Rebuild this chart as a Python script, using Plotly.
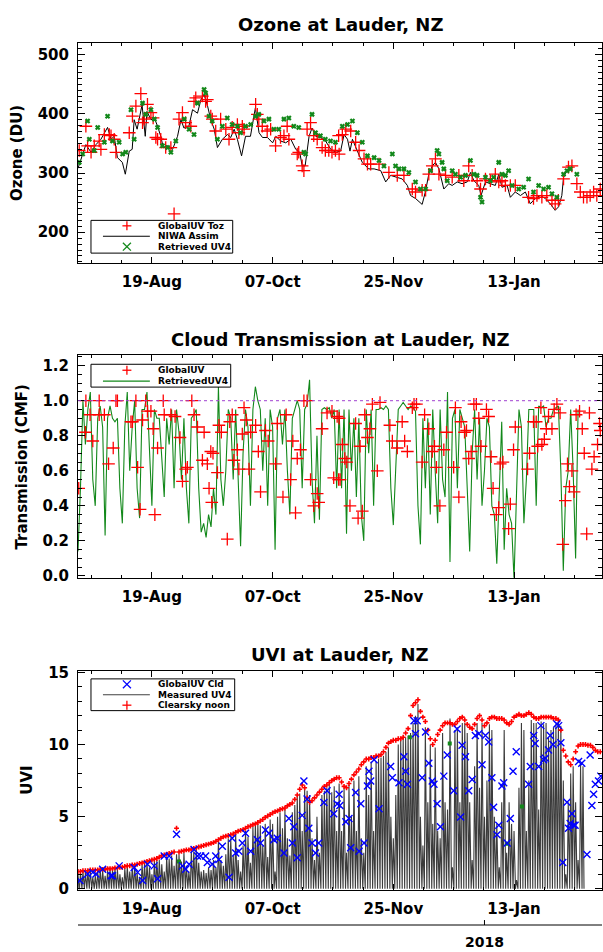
import pandas as pd
import plotly.graph_objects as go

START = pd.Timestamp("2017-07-20")
X_RANGE = [pd.Timestamp("2017-07-20"), pd.Timestamp("2018-02-17 17:00")]

# ---------------- Ozone panel ----------------
toz_days = [0.5, 3.2, 3.9, 5.3, 6.6, 8.6, 9.3, 10.7, 12.7, 13.4,
            14.7, 15.4, 20.8, 22.1, 23.5, 25.5, 26.2, 26.9, 28.2, 29.6,
            30.5, 31.6, 32.3, 33.6, 35.6, 37.7, 39, 41, 42.4, 43.7,
            45.8, 47.1, 47.8, 50.5, 51.8, 52.5, 53.9, 54.5, 55.9, 57.9,
            60, 61.3, 62.6, 64.7, 65.3, 66.7, 67.4, 72.1, 72.8, 73.4,
            74.8, 76.8, 78.2, 80.2, 82.2, 83.6, 84.9, 85.6, 89, 89.6,
            91, 91.7, 93, 94.4, 95.7, 97.1, 99.1, 100.4, 101.8, 103.1,
            104.5, 105.8,
            106, 107.3, 108.7, 110.7, 112.7, 114.1, 116.1, 117.5, 118.8, 122.2,
            126.2, 129.6, 132.3, 135.7, 137, 139.7, 141.1, 142.4, 143.8, 145.1,
            146.5, 149.2, 151.9, 154.6, 156.6, 158.6, 160, 162, 163.4, 165.4,
            167.4, 169.4, 170.8, 172.1, 173.5, 175.5, 177.5, 182.9, 184.9, 186.3,
            188.3, 190.3, 192.4, 193.7, 195, 197.1, 199.1, 200.5, 202.5, 203.9,
            205.2, 206.6, 207.9, 209.3, 210.6, 212]
toz_vals = [338, 379, 346, 335, 346, 354, 340, 365, 365, 363,
            357, 335, 368, 396, 413, 434, 385, 391, 416, 402,
            393, 360, 357, 357, 343, 343, 231, 391, 402, 385,
            379, 421, 427, 430, 421, 424, 396, 391, 371, 391,
            374, 357, 377, 382, 368, 379, 374, 416, 399, 391,
            379, 371, 374, 346, 360, 363, 379, 357, 332, 335,
            312, 304, 374, 385, 363, 357, 343, 338, 338, 335,
            338, 363,
            332, 365, 374, 371, 352, 338, 324, 315, 315, 315,
            301, 296, 296, 273, 268, 271, 271, 298, 312, 324,
            298, 296, 293, 296, 287, 312, 296, 287, 273, 290,
            287, 298, 285, 287, 279, 279, 279, 259, 257, 262,
            259, 262, 254, 248, 254, 290, 310, 312, 282, 268,
            259, 259, 262, 268, 262, 273]

niwa_days = [0, 3.2, 5.3, 7.3, 9.3, 12, 13.4, 14.7, 16, 18,
             19.2, 20.8, 22, 22.8, 24, 26, 27.3, 28, 29.6, 31,
             32.3, 33.6, 34.6, 36.4, 38.4, 40.4, 41.8, 43, 45, 46.5,
             48.5, 49.9, 51.2, 52.6, 53.9, 55.3, 56.6, 58.6, 60.7, 62,
             63.4, 64.7, 66.4, 68, 70, 72, 73.5, 74.9, 76.9, 79,
             80.3, 82.3, 84.3, 86.4, 88.4, 90, 91, 92.2, 93.8, 95,
             96.5, 98.5, 100.5, 102.6, 104.6, 106.6, 108, 109.4, 110.4, 111.4,
             113.4, 115.4, 118, 120.2, 122.9, 124.9, 126.9, 128.9, 131.6, 133.7,
             135, 137, 139.7, 141, 142.4, 143.8, 145.1, 146.5, 148.5, 150.5,
             151.9, 153.9, 155.9, 158, 159.3, 160.7, 162.7, 163.6, 165.4, 167.4,
             169.4, 170.8, 172.1, 174.2, 175.5, 177.5, 179.6, 181.6, 183.6, 185.6,
             187.7, 189.7, 191.7, 193.7, 195.1, 196.4, 197.1, 198.5]
niwa_toz = [308, 348, 335, 348, 357, 377, 357, 362, 326, 318,
            298, 337, 340, 390, 374, 415, 362, 404, 390, 393,
            379, 362, 343, 346, 340, 362, 390, 376, 379, 407,
            401, 424, 432, 413, 390, 374, 343, 357, 365, 360,
            374, 357, 329, 362, 362, 410, 368, 360, 360, 351,
            362, 354, 351, 357, 340, 335, 312, 312, 362, 376,
            362, 360, 354, 340, 335, 337, 365, 357, 337, 357,
            337, 318, 307, 307, 304, 285, 296, 293, 290, 279,
            262, 257, 247, 268, 298, 312, 318, 307, 273, 282,
            279, 285, 282, 285, 301, 287, 279, 262, 285, 282,
            279, 298, 276, 279, 259, 268, 262, 268, 248, 257,
            262, 257, 248, 237, 243, 262, 293, 304]

ret_days = [0.5, 1.9, 3.9, 4.6, 6.6, 8, 10.7, 12, 14, 16.7,
            18.1, 19.4, 21.5, 22.8, 26.2, 27.5, 29.6, 31, 32.3, 34.3,
            36.4, 37.7, 39.7, 43.1, 45.1, 47.1, 48.5, 51.2, 51.8, 53.2,
            54.5, 56.6, 58.6, 60.6, 62.6, 64.7, 66, 68, 70.1, 72.1,
            73.4, 75.5, 77.5, 79.5, 81.5, 83.6, 85.6, 87.6, 89.6, 91.7,
            92.4, 95, 96.4, 98.4, 100.4, 102.5, 104.5,
            107.3, 109.4, 111.4,
            113.4, 115.4, 117.5, 120.2, 122.2, 124.2, 127.6, 128.9, 130.3, 132.3,
            134.3, 137, 139, 141.1, 143.1, 145.8, 146.5, 147.8, 148.5, 149.9,
            151.9, 153.2, 155.3, 157.3, 159.3, 160.7, 162, 163.4, 164, 165.4,
            167.4, 168.7, 170.8, 172.1, 173.5, 174.8, 176.2, 178.9, 180.9, 182.9,
            184.9, 187, 189, 191, 192.4, 194.4, 197.1, 198.5, 199.8, 202.5]
ret_vals = [318, 332, 388, 357, 338, 377, 352, 396, 354, 352,
            332, 335, 407, 357, 418, 399, 407, 391, 377, 346,
            343, 335, 354, 391, 374, 365, 418, 441, 435, 396,
            388, 357, 379, 393, 382, 379, 368, 379, 382, 396,
            399, 388, 391, 374, 374, 391, 393, 379, 377, 335,
            332, 399, 368, 363, 357, 354, 352,
            379, 382, 388,
            368, 352, 329, 326, 321, 312, 332, 312, 307, 307,
            301, 285, 273, 273, 304, 338, 332, 318, 307, 287,
            304, 298, 293, 296, 321, 298, 296, 259, 251, 293,
            287, 293, 318, 298, 296, 304, 279, 273, 276, 290,
            268, 279, 273, 276, 265, 259, 298, 304, 307, 298]

# ---------------- Cloud transmission panel ----------------
trans_uv4 = [0.14, 0.5, 1.0, 0.75, 0.95, 1.05, 0.55, 0.4, 0.9, 0.97,
             0.85, 0.23, 0.9, 0.97, 0.9, 0.88, 0.9, 0.5, 0.3, 0.85,
             1.05, 0.6, 0.85, 1.0, 0.5, 0.33, 0.95, 0.95, 1.05, 0.7,
             0.4, 0.95, 0.9, 0.9, 0.7, 0.45, 0.9, 0.75, 0.95, 0.5,
             0.95, 0.82, 0.55, 0.9, 0.5, 0.3, 0.9, 0.92, 0.95, 0.5,
             0.25, 0.3, 0.22, 0.35, 0.28, 0.5, 0.35, 1.08, 0.55, 0.4,
             0.6, 0.95, 0.9, 0.55, 0.95, 0.5, 0.17, 0.7, 0.95, 0.85,
             0.4, 0.95, 1.08, 1.0, 0.95, 0.6, 0.9, 0.4, 0.95, 0.85,
             0.15, 0.9, 0.95, 0.75, 0.95, 0.6, 0.35, 0.9, 0.95, 1.0,
             0.95, 0.5, 0.95, 0.98, 1.12, 0.55, 0.3, 0.8, 0.32, 0.95,
             0.96, 0.95, 0.96, 0.9, 0.95, 0.5, 0.95, 0.5, 0.95, 0.24,
             0.95, 0.6, 0.9, 0.45, 0.9, 0.35, 0.2, 0.95, 0.7, 0.95,
             0.4, 0.95, 0.95, 0.96, 0.95, 0.97, 0.95, 0.5, 0.29, 0.6,
             0.95, 0.97, 0.99, 0.97, 0.95, 0.97, 0.96, 0.94, 0.4, 0.18,
             0.9, 0.5, 0.9, 0.35, 0.95, 0.6, 0.3, 0.95, 0.55, 0.45,
             1.05, 0.08, 0.9, 0.95, 0.5, 0.95, 0.9, 0.85, 0.5, 0.14,
             0.7, 0.95, 0.55, 0.9, 0.4, 0.6, 0.9, 0.85, 0.4, 0.35,
             0.07, 0.5, 0.88, 0.15, 0.5, 0.35, 0.3, -0.02, 0.55, 0.95,
             0.85, 0.3, 0.55, 0.95, 0.95, 0.95, 0.4, 0.97, 0.96, 0.97,
             0.85, 0.9, 0.9, 0.95, 0.96, 0.97, 0.6, 0.03, 0.5, 0.6,
             0.95, 0.6, 0.1, 0.95]

cmf_days = [0.3, 3.2, 3.0, 4.9, 6.0, 8.6, 8.6, 10.7, 12.4, 14.3,
            15.4, 16.0, 21.5, 22.1, 23.5, 24.2, 25.2, 26.2, 27.5, 28.2,
            29.6, 30.5, 31.2, 32.3, 34.6, 35.0, 37.7, 39.4, 41.4, 42.4,
            43.7, 44.4, 46.2, 47.1, 48.5, 50.5, 51.2, 52.5, 53.2, 53.9,
            54.3, 54.8, 56.6, 57.2, 58.2, 60.6, 61.6, 62.6, 63.3, 64.7,
            65.3, 66.7, 67.4, 68.3, 69.4, 70.1, 72.1, 73.2, 74.1, 76.1,
            77.2, 80.2, 80.9, 83.2, 84.5, 86.3, 87.2, 88.3, 89.0, 90.3,
            91.7, 93.0, 94.4, 95.7, 97.1, 97.7, 99.1, 101.1, 103.1, 103.8,
            105.2, 105.8,
            106.0, 106.4, 107.3, 108.3, 109.1, 110.4, 112.7, 113.7, 114.5, 115.4,
            116.4, 117.5, 118.5, 119.5, 121.5, 122.6, 126.6, 127.6, 129.6, 131.6,
            132.6, 133.7, 135.7, 136.4, 137.4, 139.7, 140.7, 142.4, 143.8, 144.7,
            145.5, 146.9, 148.5, 149.6, 152.5, 153.2, 154.6, 155.5, 156.9, 157.7,
            158.6, 159.6, 160.7, 161.7, 162.7, 163.6, 165.8, 166.7, 167.7, 168.5,
            169.8, 170.8, 171.4, 172.5, 174.8, 175.5, 176.8, 177.5, 182.5, 183.3,
            184.9, 186.0, 186.6, 187.9, 188.3, 189.3, 190.1, 191.0, 192.4, 193.3,
            194.4, 195.7, 196.8, 197.8, 198.7, 199.5, 200.5, 201.4, 202.2, 203.6,
            204.7, 205.5, 206.5, 207.6, 208.6, 209.5, 210.9, 211.7, 212.0]
cmf_vals = [0.50, 1.0, 0.82, 0.92, 0.77, 1.0, 0.92, 0.92, 0.64, 0.73,
            1.0, 1.0, 0.88, 0.88, 1.0, 0.62, 0.38, 0.89, 1.0, 0.94,
            0.94, 0.84, 0.35, 0.73, 1.0, 0.92, 0.92, 0.91, 0.79, 0.54,
            0.61, 0.62, 1.0, 0.92, 0.85, 0.66, 0.82, 0.64, 0.50, 0.71,
            0.42, 0.70, 0.59, 0.86, 0.82, 0.21, 0.88, 0.92, 0.66, 0.72,
            0.61, 0.81, 0.96, 0.89, 0.61, 0.82, 0.86, 0.71, 0.48, 0.83,
            0.77, 0.64, 0.87, 0.45, 0.92, 0.55, 0.77, 0.36, 0.67, 0.72,
            1.0, 1.0, 0.55, 0.40, 0.47, 0.42, 0.84, 0.93, 0.94, 0.56,
            0.91, 0.55,
            0.90, 0.55, 0.75, 0.67, 0.65, 0.40, 0.87, 0.33, 0.74, 0.37,
            0.92, 0.79, 0.84, 0.98, 0.60, 0.99, 0.86, 0.77, 0.73, 0.88,
            0.77, 0.71, 0.96, 0.98, 0.98, 0.65, 0.92, 0.84, 0.71, 0.74,
            0.62, 0.40, 0.72, 0.82, 0.62, 0.96, 0.45, 0.88, 0.82, 0.83,
            0.67, 0.71, 0.98, 0.98, 0.90, 0.74, 0.95, 0.91, 0.68, 0.50,
            0.35, 0.39, 0.64, 0.65, 0.27, 0.41, 0.72, 0.85, 0.61, 0.70,
            0.88, 0.88, 0.74, 0.96, 0.75, 0.78, 0.84, 0.91, 0.84, 0.95,
            0.98, 0.93, 0.18, 0.43, 0.64, 0.51, 0.60, 0.48, 0.92, 0.94,
            0.84, 0.70, 0.24, 0.93, 0.61, 0.68, 0.75, 0.87, 0.83]

# ---------------- UVI panel ----------------
clearsky_uvi = [1.2, 1.2, 1.25, 1.25, 1.25, 1.3, 1.3, 1.3, 1.3, 1.35, 1.35,
                1.35, 1.4, 1.4, 1.4, 1.45, 1.45, 1.5, 1.5, 1.55, 1.6,
                1.6, 1.65, 1.65, 1.7, 1.75, 1.8, 1.85, 1.9, 1.95, 2.0,
                2.05, 2.1, 2.2, 2.3, 2.35, 2.4, 2.45, 2.5, 2.55, 4.2,
                2.55, 2.6, 2.65, 2.7, 2.7, 2.75, 2.8, 2.85, 2.9, 2.95,
                3.0, 3.05, 3.1, 3.15, 3.2, 3.3, 3.4, 3.5, 3.6, 3.65,
                3.7, 3.75, 3.8, 3.9, 4.0, 4.05, 4.1, 4.2, 4.3, 4.35,
                4.45, 4.5, 4.6, 4.7, 4.8, 4.95, 5.05, 5.15, 5.25, 5.35,
                5.4, 5.5, 5.55, 5.6, 5.75, 5.85, 5.95, 6.2, 6.5, 6.9,
                7.2, 7.0, 6.3, 6.0, 6.1, 6.3, 6.5, 6.7, 6.9, 7.1,
                7.2, 7.35, 7.5, 7.6, 7.7, 7.7, 7.4, 7.1, 7.0, 7.3,
                7.6, 7.9, 8.1, 8.3, 8.6, 8.8, 9.0, 9.0, 9.1, 9.1,
                9.2, 9.2, 9.3, 9.5, 9.8, 10.1, 10.2, 10.3, 10.3, 10.4,
                10.4, 10.5, 10.8, 11.1, 12.0, 12.7, 12.9, 13.1, 12.3, 11.9,
                11.6, 11.0, 10.4, 10.0, 10.3, 10.7, 11.0, 11.3, 11.5, 11.5,
                11.5, 11.4, 11.4, 11.6, 11.8, 11.9, 11.7, 11.4, 11.2, 11.1,
                11.4, 11.8, 12.0, 11.7, 11.3, 11.5, 11.8, 11.9, 11.9, 11.8,
                11.8, 11.8, 11.7, 11.5, 11.4, 11.6, 11.9, 12.0, 12.1, 12.0,
                12.0, 12.1, 12.2, 12.1, 11.9, 11.8, 11.8, 11.9, 11.9, 11.9,
                11.9, 11.9, 11.8, 11.8, 11.7, 11.0, 9.6, 9.2, 8.8, 8.6,
                9.0, 9.5, 9.9, 10.0, 10.0, 10.0, 9.95, 9.95, 9.8, 9.6, 9.5, 9.5]

uv4_peak = [1.0, 1.1, 1.2, 1.1, 1.2, 1.25, 0.8, 0.9, 1.2, 1.3, 1.3,
            0.9, 1.3, 1.35, 1.3, 1.4, 1.3, 1.0, 0.8, 1.4, 1.55,
            1.2, 1.5, 1.6, 1.1, 0.8, 1.7, 1.75, 1.8, 1.5, 1.0,
            1.95, 2.0, 2.0, 1.7, 1.2, 2.2, 2.1, 2.3, 1.6, 2.4,
            2.4, 1.9, 2.5, 1.6, 1.2, 2.6, 2.6, 2.7, 1.8, 1.2,
            1.3, 1.1, 1.5, 1.3, 2.0, 1.5, 3.3, 2.0, 1.6, 2.4,
            3.5, 3.5, 2.3, 3.8, 2.0, 1.2, 3.0, 4.0, 3.6, 1.8,
            4.3, 4.6, 4.5, 4.4, 3.0, 4.5, 2.2, 4.8, 4.5, 1.2,
            5.0, 5.3, 4.2, 5.5, 3.5, 2.3, 5.3, 5.8, 6.5, 6.6,
            4.0, 7.0, 6.8, 6.5, 3.5, 2.0, 5.0, 2.5, 6.5, 6.8,
            7.0, 7.2, 6.7, 7.1, 4.0, 7.3, 4.0, 7.0, 2.5, 7.2,
            5.0, 7.5, 4.0, 7.8, 3.5, 2.5, 8.5, 6.5, 8.8, 4.0,
            8.8, 9.0, 9.1, 9.2, 9.5, 9.8, 5.0, 3.5, 6.5, 10.0,
            10.3, 10.4, 10.5, 10.6, 10.8, 11.5, 12.0, 12.8, 5.0, 3.0,
            11.2, 6.0, 10.0, 4.5, 9.8, 4.0, 3.5, 10.8, 6.0, 5.5,
            11.8, 1.5, 11.0, 11.2, 6.0, 11.5, 11.5, 10.8, 6.0, 2.0,
            8.5, 11.5, 7.0, 11.5, 5.0, 7.5, 11.4, 11.0, 5.0, 4.5,
            1.5, 6.0, 11.0, 2.5, 6.0, 4.5, 4.0, 0.6, 7.0, 11.5,
            11.0, 4.0, 7.5, 11.7, 11.5, 11.5, 5.5, 11.6, 11.4, 11.5,
            10.5, 11.0, 11.2, 11.4, 11.5, 11.3, 7.5, 1.0, 6.0, 8.0,
            8.5, 6.0, 2.0, 8.6, 8.5]

cld_days = [0.8, 3.9, 6.0, 7.3, 10.0, 13.4, 14.0, 16.7, 22.8, 24.2,
            26.2, 28.2, 30.9, 32.3, 35.0, 37.0, 40.0, 42.4, 43.7, 45.1,
            47.1, 48.5, 49.8, 51.8, 52.5, 54.5, 55.9, 57.2, 58.6, 61.3,
            62.6, 64.0, 65.3, 66.7, 68.0, 70.1, 72.8, 74.1, 76.1, 77.5,
            79.5, 80.9, 83.6, 85.6, 87.0, 87.6, 89.0, 91.0, 91.7, 93.0,
            93.7, 95.0, 96.4, 97.7, 99.8, 101.1, 103.8, 105.2,
            106.0, 106.3, 108.7, 110.0, 110.7, 112.7, 114.1, 114.8, 116.1, 117.5,
            118.1, 118.8, 120.2, 122.2, 126.9, 127.6, 130.3, 132.3, 133.0, 133.7,
            136.4, 137.0, 137.7, 139.7, 141.1, 142.4, 143.8, 144.5, 145.8, 147.1,
            148.5, 149.9, 152.5, 153.9, 155.3, 155.9, 157.3, 158.6, 160.0, 161.3,
            162.7, 164.0, 165.4, 166.7, 168.0, 168.7, 170.1, 170.8, 172.1, 172.8,
            174.2, 175.5, 176.6, 177.9, 182.9, 183.6, 185.0, 185.6, 187.0, 187.9,
            189.0, 189.7, 191.0, 191.7, 192.8, 194.4, 195.1, 196.0, 196.8, 198.5,
            199.1, 199.8, 200.5, 201.2, 201.8, 203.2, 204.5, 206.6, 207.9, 208.6,
            209.3, 210.0, 211.3, 212.2]
cld_uvi = [0.57, 1.02, 1.14, 1.02, 1.36, 0.91, 0.91, 1.59, 1.48, 1.14,
           0.57, 1.70, 1.59, 0.69, 2.27, 2.27, 3.78, 1.59, 1.36, 1.70,
           2.72, 2.27, 2.27, 2.27, 1.82, 1.70, 2.27, 2.04, 2.95, 0.80,
           3.51, 2.49, 2.61, 3.17, 3.85, 2.61, 3.40, 3.17, 4.08, 3.85,
           3.40, 3.51, 2.49, 4.87, 3.17, 4.30, 2.15, 5.09, 7.47, 6.22,
           4.19, 3.17, 2.49, 3.17, 5.99, 6.79, 5.20, 5.88,
           6.56, 5.77, 4.64, 4.87, 2.84, 6.68, 2.61, 5.89, 3.17, 7.13,
           8.15, 7.47, 8.94, 5.55, 8.48, 7.69, 7.35, 9.16, 8.15, 7.24,
           11.65, 10.74, 11.65, 7.69, 10.86, 8.71, 7.47, 7.24, 5.89, 4.30,
           7.81, 9.28, 6.79, 11.08, 4.98, 9.95, 9.16, 6.79, 7.58, 10.63,
           10.74, 8.60, 10.63, 10.18, 7.69, 5.66, 3.74, 4.41, 7.13, 7.35,
           3.17, 4.87, 8.15, 9.50, 7.24, 8.48, 10.63, 10.07, 8.48, 11.31,
           8.94, 9.05, 9.62, 10.63, 10.00, 11.42, 11.31, 10.13, 1.82, 6.00,
           4.19, 4.53, 5.21, 4.41, 4.41, 8.82, 8.71, 2.38, 9.28, 5.77,
           6.56, 7.24, 7.47, 7.81]

green_uvi_days = [41.0, 134.7, 150.9, 174.2, 180.2]
green_uvi_vals = [1.9, 10.5, 10.07, 3.13, 5.7]

# ---------------- helpers ----------------
def to_dates(days):
    return [START + pd.Timedelta(days=float(d)) for d in days]

L, R, T, B = 78, 0, 0, 27
W, H = 603, 952
PW, PH = W - L - R, H - T - B


def px(xp):
    return (xp - L) / PW


def py(yp):
    return (H - B - yp) / PH


RED = "#ff0000"
GREEN = "#12881a"
BLUE = "#0000ff"

fig = go.Figure()

# Ozone
fig.add_trace(go.Scatter(x=to_dates(niwa_days), y=niwa_toz, mode="lines",
                         line=dict(color="black", width=1), xaxis="x", yaxis="y"))
fig.add_trace(go.Scatter(x=to_dates(toz_days), y=toz_vals, mode="markers",
                         marker=dict(symbol="cross-thin", size=9, line=dict(color=RED, width=1.3)),
                         xaxis="x", yaxis="y"))
fig.add_trace(go.Scatter(x=to_dates(ret_days), y=ret_vals, mode="markers",
                         marker=dict(symbol="x-thin", size=4, line=dict(color=GREEN, width=2.2)),
                         xaxis="x", yaxis="y"))

# Transmission
fig.add_trace(go.Scatter(x=to_dates(range(len(trans_uv4))), y=trans_uv4, mode="lines",
                         line=dict(color=GREEN, width=1.1), xaxis="x2", yaxis="y2"))
fig.add_trace(go.Scatter(x=to_dates(cmf_days), y=cmf_vals, mode="markers",
                         marker=dict(symbol="cross-thin", size=9, line=dict(color=RED, width=1.3)),
                         xaxis="x2", yaxis="y2"))

# UVI: measured diurnal spikes built from the daily peaks
spike_x, spike_y = [], []
for d, p in enumerate(uv4_peak):
    spike_x += [d - 0.4, d, d + 0.4]
    spike_y += [0, p, 0]
fig.add_trace(go.Scatter(x=to_dates(spike_x), y=spike_y, mode="lines",
                         line=dict(color="#3c3c3c", width=1.1), xaxis="x3", yaxis="y3"))
fig.add_trace(go.Scatter(x=to_dates(range(len(clearsky_uvi))), y=clearsky_uvi, mode="markers",
                         marker=dict(symbol="cross-thin", size=3.5, line=dict(color=RED, width=1.6)),
                         xaxis="x3", yaxis="y3"))
fig.add_trace(go.Scatter(x=to_dates(green_uvi_days), y=green_uvi_vals, mode="markers",
                         marker=dict(symbol="square", size=4, color=GREEN),
                         xaxis="x3", yaxis="y3"))
fig.add_trace(go.Scatter(x=to_dates(cld_days), y=cld_uvi, mode="markers",
                         marker=dict(symbol="x-thin", size=7, line=dict(color=BLUE, width=1.4)),
                         xaxis="x3", yaxis="y3"))

fig.update_traces(showlegend=False, hoverinfo="skip")

TICKFONT = dict(family="DejaVu Sans", size=15, color="black", weight="bold")
DAY_MS = 86400000


def xaxis(anchor):
    return dict(type="date", range=X_RANGE, anchor=anchor,
                tick0="2017-08-19", dtick=49 * DAY_MS, tickformat="%d-%b",
                ticks="inside", ticklen=6, tickwidth=1, tickcolor="black",
                showline=True, linecolor="black", linewidth=1, mirror="allticks",
                showgrid=False, zeroline=False, tickfont=TICKFONT, ticklabelstandoff=5,
                minor=dict(tick0="2017-08-19", dtick=12.25 * DAY_MS, ticks="inside",
                           ticklen=3, tickcolor="black", showgrid=False))


def yaxis(anchor, rng, dtick, minor, domain, fmt=None):
    d = dict(range=rng, anchor=anchor, domain=domain, dtick=dtick, tick0=0,
             ticks="inside", ticklen=7, tickwidth=1, tickcolor="black",
             showline=True, linecolor="black", linewidth=1, mirror="allticks",
             showgrid=False, zeroline=False, tickfont=TICKFONT, ticklabelstandoff=5,
             minor=dict(dtick=minor, tick0=0, ticks="inside", ticklen=4,
                        tickcolor="black", showgrid=False))
    if fmt:
        d["tickformat"] = fmt
    return d


fig.update_layout(
    width=W, height=H,
    margin=dict(l=L, r=R, t=T, b=B),
    paper_bgcolor="white", plot_bgcolor="white",
    showlegend=False,
    xaxis=xaxis("y"), xaxis2=xaxis("y2"), xaxis3=xaxis("y3"),
    yaxis=yaxis("x", [148, 520], 100, 10, [py(258), py(36)]),
    yaxis2=yaxis("x2", [-0.01, 1.259], 0.2, 0.05, [py(575), py(351)], ".1f"),
    yaxis3=yaxis("x3", [-0.1, 15.1], 5, 1, [py(890), py(669)]),
)

TITLEFONT = dict(family="DejaVu Sans", size=18, color="black", weight="bold")
AXTITLEFONT = dict(family="DejaVu Sans", size=15, color="black", weight="bold")
LEGFONT = dict(family="DejaVu Sans", size=9, color="black", weight="bold")

ann = []
shapes = []
for text, yc in [("Ozone at Lauder, NZ", 18), ("Cloud Transmission at Lauder, NZ", 335),
                 ("UVI at Lauder, NZ", 652)]:
    ann.append(dict(text=text, x=0.5, y=py(yc), xref="paper", yref="paper",
                    xanchor="center", yanchor="middle", showarrow=False, font=TITLEFONT))
for text, xc, yc in [("Ozone (DU)", 17, 147), ("Transmission (CMF)", 22, 463),
                     ("UVI", 27, 779.5)]:
    ann.append(dict(text=text, x=px(xc), y=py(yc), xref="paper", yref="paper",
                    xanchor="center", yanchor="middle", textangle=-90,
                    showarrow=False, font=AXTITLEFONT))

# dotted unity line in the transmission panel
shapes.append(dict(type="line", xref="x2 domain", yref="y2", x0=0, x1=1, y0=1.0, y1=1.0,
                   line=dict(color="#a040d0", width=1, dash="dot")))

# year axis under the UVI panel
shapes.append(dict(type="line", xref="paper", yref="paper", x0=0, x1=1, y0=0, y1=0,
                   line=dict(color="black", width=1)))
shapes.append(dict(type="line", xref="x3", yref="paper", x0="2018-01-01", x1="2018-01-01",
                   y0=0, y1=py(H - B - 5), line=dict(color="black", width=1)))
ann.append(dict(text="2018", x="2018-01-01", y=0, xref="x3", yref="paper",
                xanchor="center", yanchor="top", yshift=-7, showarrow=False,
                font=dict(family="DejaVu Sans", size=14, color="black", weight="bold")))


# hand-drawn legend boxes (IDL style)
def legend(box, rows):
    x0, y0, x1, y1 = box
    shapes.append(dict(type="rect", xref="paper", yref="paper", x0=px(x0), x1=px(x1),
                       y0=py(y1), y1=py(y0), line=dict(color="black", width=1),
                       fillcolor="white", layer="above"))
    for kind, color, label, yr in rows:
        cx = 127
        if kind == "plus":
            segs = [(cx - 4.5, yr, cx + 4.5, yr), (cx, yr - 4.5, cx, yr + 4.5)]
            w = 1.3
        elif kind == "x":
            segs = [(cx - 4, yr - 4, cx + 4, yr + 4), (cx - 4, yr + 4, cx + 4, yr - 4)]
            w = 1.3
        else:
            segs = [(103, yr, 150, yr)]
            w = 1.2
        for a, b, c, d in segs:
            shapes.append(dict(type="line", xref="paper", yref="paper", x0=px(a), x1=px(c),
                               y0=py(b), y1=py(d), line=dict(color=color, width=w),
                               layer="above"))
        ann.append(dict(text=label, x=px(157), y=py(yr), xref="paper", yref="paper",
                        xanchor="left", yanchor="middle", showarrow=False, borderpad=0,
                        font=LEGFONT))


legend((91, 215, 233, 248), [("plus", RED, "GlobalUV Toz", 220.5),
                             ("line", "black", "NIWA Assim", 231),
                             ("x", GREEN, "Retrieved UV4", 241.5)])
legend((91, 360, 231, 383), [("plus", RED, "GlobalUV", 366),
                             ("line", GREEN, "RetrievedUV4", 377)])
legend((91, 677, 235, 709), [("x", BLUE, "GlobalUV Cld", 682.5),
                             ("line", "#404040", "Measured UV4", 693),
                             ("plus", RED, "Clearsky noon", 703.5)])

fig.update_layout(annotations=ann, shapes=shapes)

fig.write_html("out.html", config={"displayModeBar": False},
               post_script="document.body.style.margin='0px';document.body.style.overflow='hidden';")
